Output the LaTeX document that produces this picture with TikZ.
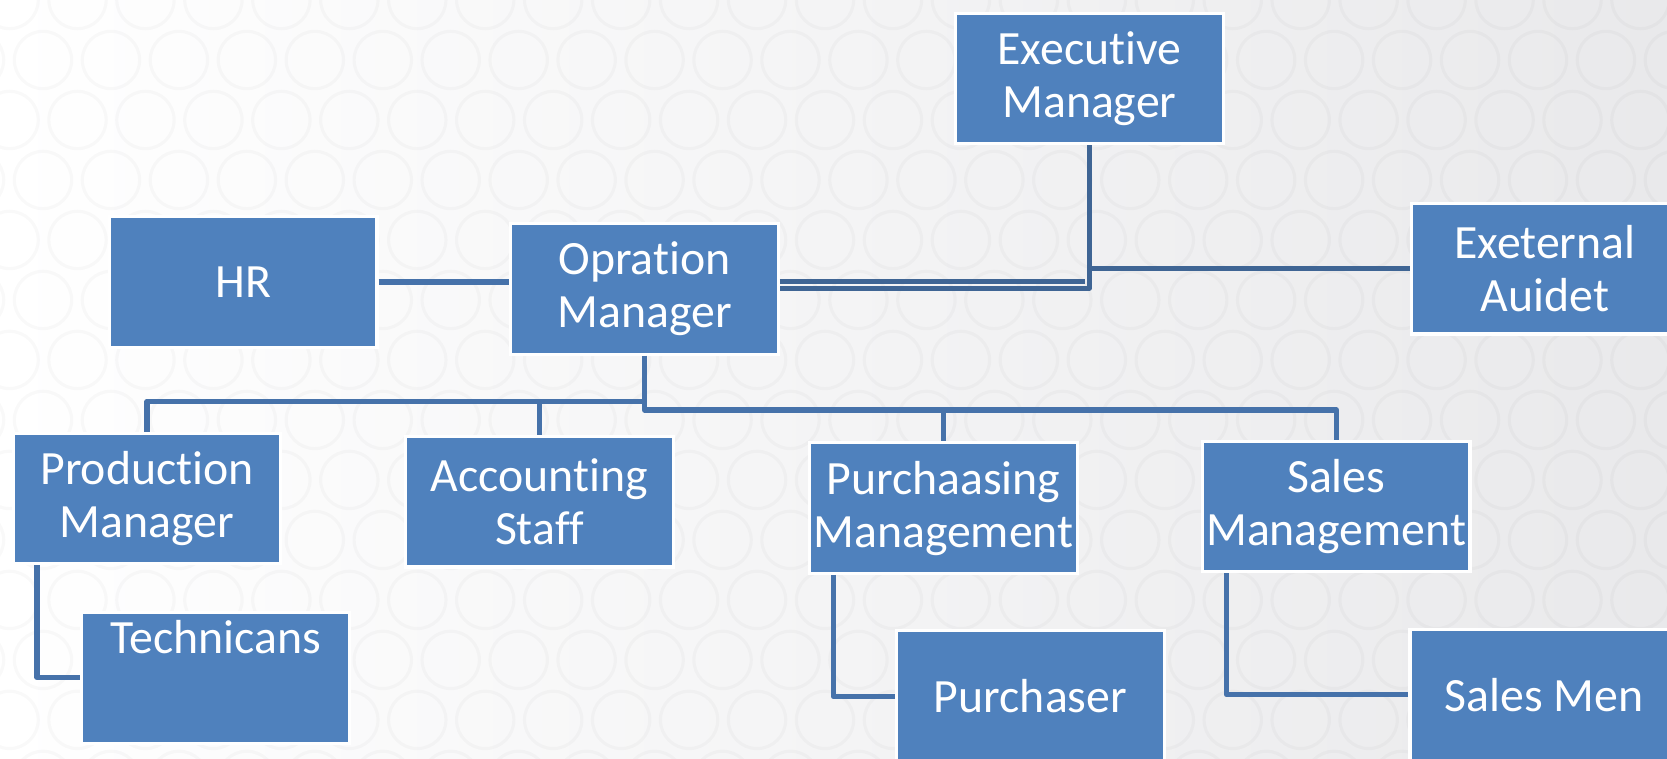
\documentclass[tikz,border=0pt]{standalone}
\usepackage{fontspec}
\setmainfont{Carlito}[Ligatures=NoCommon]
\definecolor{boxblue}{HTML}{4F81BD}
\definecolor{linkblue}{HTML}{4672AA}
\definecolor{linkdark}{HTML}{3F6594}
\definecolor{bgright}{HTML}{E9E9EB}
\begin{document}
\begin{tikzpicture}[x=0.5pt,y=-0.5pt,
  orgbox/.style={rectangle, fill=boxblue, draw=white, line width=1.5pt,
    minimum width=126pt, minimum height=61.5pt, inner sep=0pt,
    text=white, align=center, font=\fontsize{22.5pt}{25pt}\selectfont},
  link/.style={draw=linkblue, line width=2.6pt, line join=round},
  linkd/.style={draw=linkdark, line width=2.2pt, line join=round}]
\useasboundingbox (0,0) rectangle (1570,714);
% background
\shade[left color=white, right color=bgright] (0,0) rectangle (1570,714);
\begin{scope}
\clip (0,0) rectangle (1570,714);
\foreach \j in {0,...,13}{
  \pgfmathsetmacro{\yy}{\j*56.5}
  \pgfmathsetmacro{\xo}{mod(\j,2)==1 ? 40.5 : 9}
  \foreach \i in {-1,...,25}{
    \draw[black, opacity=0.025, line width=1.5pt] (\xo+\i*64,\yy) circle[radius=27];
  }
}
\end{scope}
% nodes
\node[orgbox] (exec) at (1026,74) {Executive\\Manager};
\node[orgbox] (hr) at (229,265.5) {HR};
\node[orgbox] (op) at (607,272) {Opration\\Manager};
\node[orgbox] (ext) at (1455,253) {Exeternal\\Auidet};
\node[orgbox] (prod) at (138.5,469.5) {Production\\Manager};
\node[orgbox] (acc) at (508,472.5) {Accounting\\Staff};
\node[orgbox] (pur) at (888.5,478.5) {Purchaasing\\Management};
\node[orgbox] (sal) at (1258.5,477) {Sales\\Management};
\node[orgbox, text height=19pt, text depth=42.5pt, minimum height=0pt] (tech) at (203,638.5) {Technicans};
\node[orgbox] (purr) at (970.5,655.5) {Purchaser};
\node[orgbox] (men) at (1454,654.5) {Sales Men};
% coordinates
\coordinate (j1) at (1026,271.5);
\coordinate (j2) at (1022,265);
\coordinate (j3) at (1026,253);
\coordinate (bl) at (607,378);
\coordinate (br) at (607,386);
\coordinate (cpt) at (35,638);
\coordinate (cpu) at (785,656);
\coordinate (csa) at (1155,654);
% connectors
\draw[link] (hr.east) -- (hr.east -| op.west);
\draw[linkd] (exec.south) -- (j1) -- (j1 -| op.east);
\draw[linkd] (j2 -| op.east) -- (j2);
\draw[linkd] (j3) -- (j3 -| ext.west);
\draw[link] (op.south) -- (br) -- (br -| sal.north) -- (sal.north);
\draw[link] (br -| pur.north) -- (pur.north);
\draw[link] (bl) -- (bl -| prod.north) -- (prod.north);
\draw[link] (bl -| acc.north) -- (acc.north);
\draw[link] (cpt |- prod.south) -- (cpt) -- (cpt -| tech.west);
\draw[link] (cpu |- pur.south) -- (cpu) -- (cpu -| purr.west);
\draw[link] (csa |- sal.south) -- (csa) -- (csa -| men.west);
\end{tikzpicture}
\end{document}
